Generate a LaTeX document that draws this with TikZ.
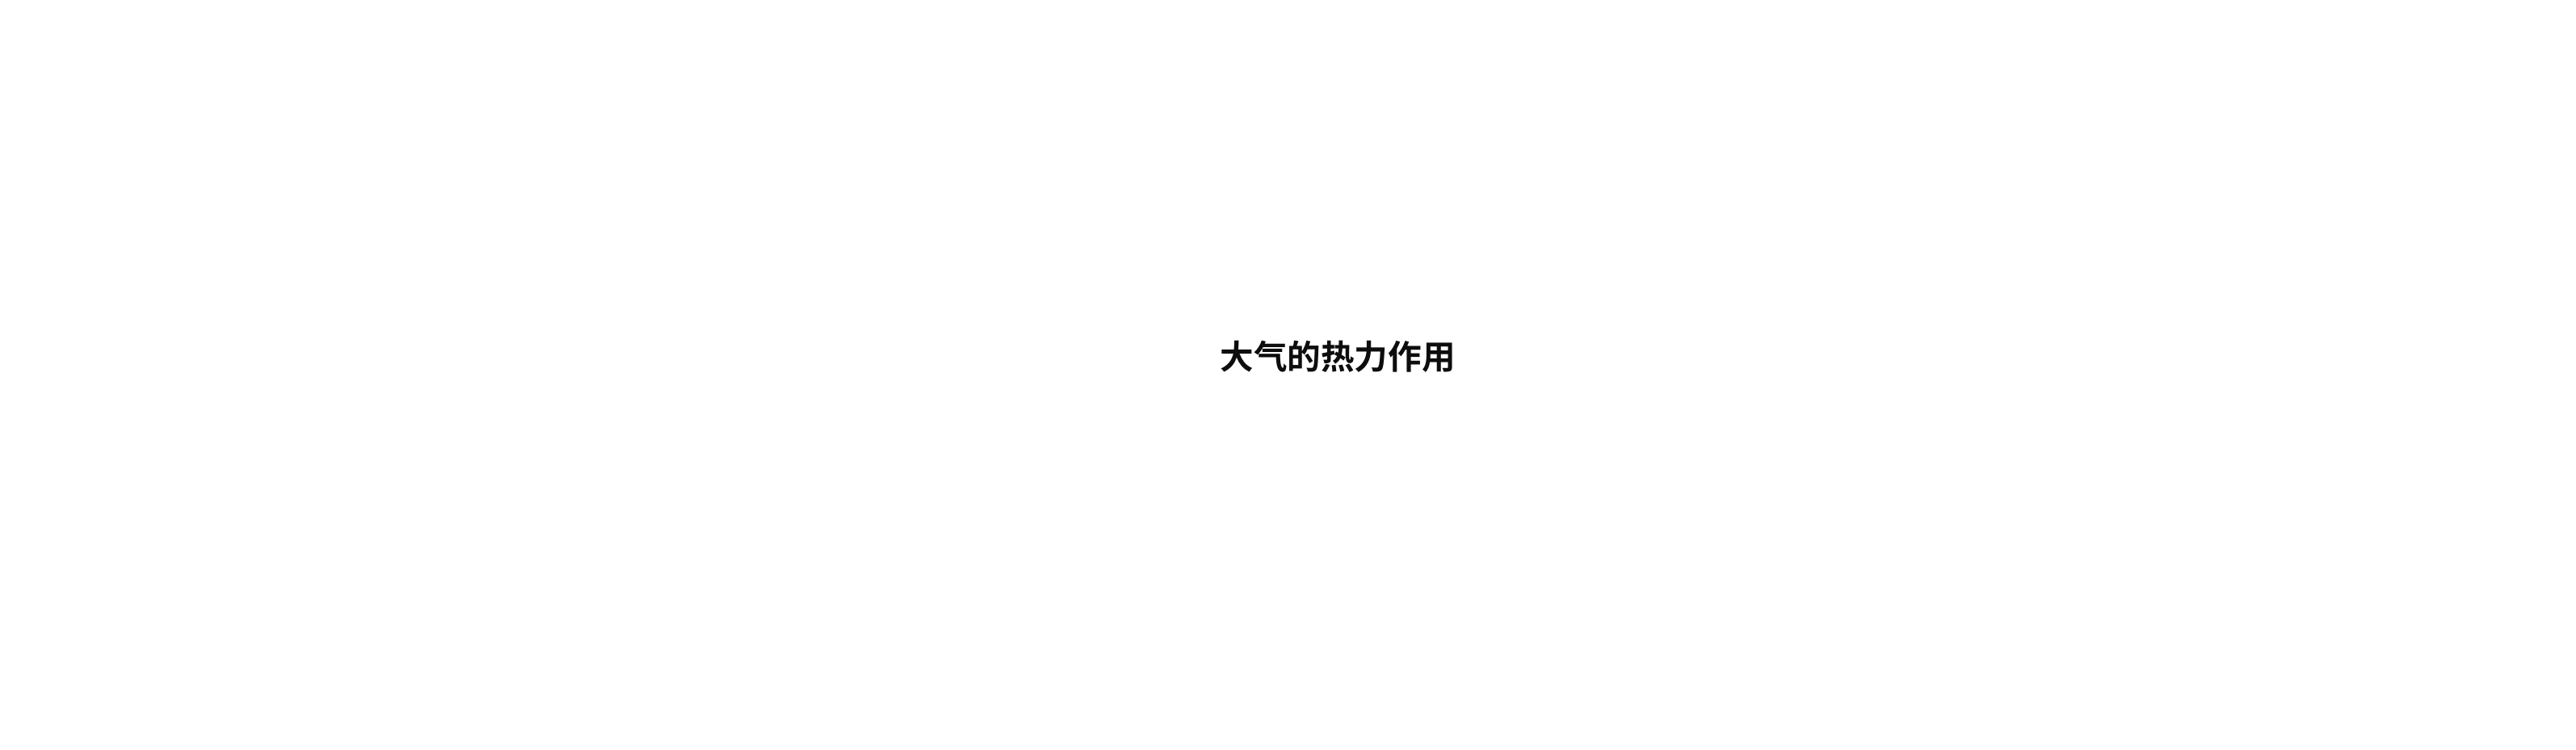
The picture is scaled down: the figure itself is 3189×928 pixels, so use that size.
\documentclass[tikz,border=0pt]{standalone}
\usepackage{fontspec}
\newfontfamily\cjk{Noto Sans CJK SC}[BoldFont={Noto Sans CJK SC Bold}]
\begin{document}
\begin{tikzpicture}[x=0.5pt,y=0.5pt,
  titletext/.style={font=\cjk\bfseries\fontsize{20.8pt}{24pt}\selectfont, text=black!95, inner sep=0pt}]
\fill[white] (0,0) rectangle (3189,928);
\useasboundingbox (0,0) rectangle (3189,928);
\node[titletext] (title) at (1656,486) {大气的热力作用};
\end{tikzpicture}
\end{document}
